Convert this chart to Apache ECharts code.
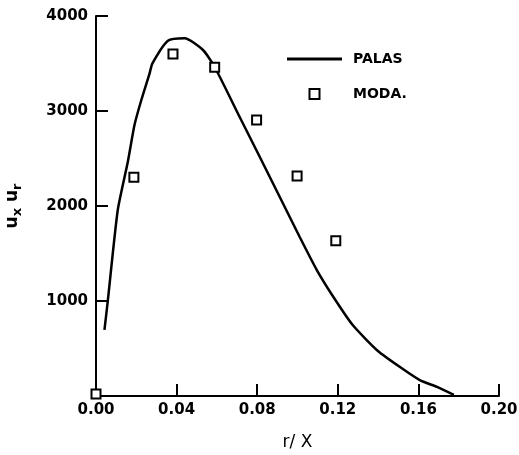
<!DOCTYPE html>
<html>
<head>
<meta charset="utf-8">
<script src="https://cdn.jsdelivr.net/npm/echarts@6/dist/echarts.min.js"></script>
<style>html,body{margin:0;padding:0;background:#fff}#c{width:519px;height:455px}</style>
</head>
<body>
<div id="c"></div>
<script>
// PALAS curve (r/X, ux*ur)
var palasX = [0.0042, 0.0059, 0.0108, 0.0158, 0.0191, 0.0225, 0.0266, 0.028, 0.0357, 0.044, 0.0531, 0.0589, 0.0713, 0.0813, 0.0912, 0.1011, 0.1096, 0.1175, 0.1274, 0.1399, 0.1523, 0.1607, 0.1692, 0.1776];
var palasY = [695, 1010, 1958, 2466, 2853, 3116, 3397, 3502, 3740, 3765, 3642, 3463, 2937, 2516, 2095, 1674, 1326, 1053, 747, 474, 284, 168, 95, 11];
// MODA. points
var modaX = [0.0, 0.0188, 0.0382, 0.0589, 0.0797, 0.0998, 0.119];
var modaY = [20, 2302, 3600, 3460, 2905, 2316, 1635];
var xTicks = [0, 0.04, 0.08, 0.12, 0.16, 0.20];
var yTicks = [1000, 2000, 3000, 4000];

var FONT = 'DejaVu Sans';
var chart = echarts.init(document.getElementById('c'));
chart.setOption({
  backgroundColor: '#fff',
  animation: false,
  grid: {left: 96, right: 20, top: 16, bottom: 59, containLabel: false, outerBoundsMode: 'none'},
  legend: {
    left: 282, top: 47, orient: 'vertical', itemWidth: 55, itemHeight: 10, itemGap: 21,
    textStyle: {fontFamily: FONT, fontWeight: 'bold', fontSize: 14, color: '#000', padding: [0, 0, 0, 6]},
    data: [
      {name: 'PALAS', icon: 'path://M0,0H55V3H0Z'},
      {name: 'MODA.', icon: 'path://M0,0H10V10H0Z'}
    ]
  },
  xAxis: {
    type: 'value', min: 0, max: 0.2, interval: 0.04,
    name: 'r/ X', nameLocation: 'middle', nameGap: 38,
    nameTextStyle: {fontFamily: FONT, fontSize: 17, color: '#000'},
    axisLine: {lineStyle: {color: '#000', width: 2}},
    axisTick: {inside: true, length: 12, lineStyle: {color: '#000', width: 2}},
    axisLabel: {fontFamily: FONT, fontWeight: 'bold', fontSize: 15, color: '#000', margin: 7,
      formatter: function (v) { return v.toFixed(2); }},
    splitLine: {show: false}
  },
  yAxis: {
    type: 'value', min: 0, max: 4000, interval: 1000,
    name: 'u{s|x} u{s|r}', nameLocation: 'middle', nameRotate: 90, nameGap: 72,
    nameTextStyle: {fontFamily: FONT, fontWeight: 'bold', fontSize: 17, color: '#000',
      rich: {s: {fontFamily: FONT, fontWeight: 'bold', fontSize: 13, color: '#000', verticalAlign: 'bottom', padding: [9, 0, 0, 0]}}},
    axisLine: {lineStyle: {color: '#000', width: 2}},
    axisTick: {inside: true, length: 12, lineStyle: {color: '#000', width: 2}},
    axisLabel: {fontFamily: FONT, fontWeight: 'bold', fontSize: 15, color: '#000', margin: 8,
      formatter: function (v) { return yTicks.indexOf(v) >= 0 ? String(v) : ''; }},
    splitLine: {show: false}
  },
  series: [
    {
      name: 'PALAS', type: 'line', smooth: 0.2, symbol: 'none', clip: false,
      lineStyle: {color: '#000', width: 2.5},
      itemStyle: {color: '#000'},
      data: palasX.map(function (x, i) { return [x, palasY[i]]; })
    },
    {
      name: 'MODA.', type: 'scatter', symbol: 'rect', symbolSize: 9, clip: false, z: 5,
      itemStyle: {color: '#fff', borderColor: '#000', borderWidth: 2, opacity: 1},
      data: modaX.map(function (x, i) { return [x, modaY[i]]; })
    }
  ]
});
</script>
</body>
</html>
